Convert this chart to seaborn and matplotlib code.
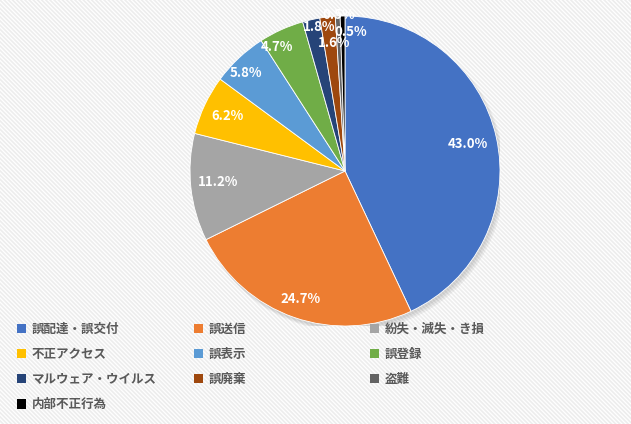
import numpy as np
import matplotlib
matplotlib.use("Agg")
import matplotlib.pyplot as plt
import seaborn as sns
from matplotlib.patches import Patch, Circle, Rectangle

categories = ["誤配達・誤交付", "誤送信", "紛失・滅失・き損", "不正アクセス", "誤表示",
              "誤登録", "マルウェア・ウイルス", "誤廃棄", "盗難", "内部不正行為"]
values = [43.0, 24.7, 11.2, 6.2, 5.8, 4.7, 1.8, 1.6, 0.5, 0.5]
colors = ["#4472C4", "#ED7D31", "#A5A5A5", "#FFC000", "#5B9BD5",
          "#70AD47", "#264478", "#9E480E", "#636363", "#000000"]
# label placement style (radius fraction, angular nudge in degrees)
label_r = [0.81, 0.875, 0.82, 0.84, 0.90, 0.91, 0.945, 0.83, 1.01, 0.90]
label_dt = [0, 0, -1.1, 0, 2.0, 4.4, -2.3, -1.4, -0.3, -3.4]

sns.set_theme(style="white")
plt.rcParams["font.family"] = ["Noto Sans CJK JP", "DejaVu Sans"]
plt.rcParams["hatch.linewidth"] = 1.2

W, H = 631, 424
fig = plt.figure(figsize=(W / 100, H / 100), dpi=100)
fig.patch.set_facecolor("white")

# faint diagonal-stripe background
fig.patches.append(Rectangle((0, 0), 1, 1, transform=fig.transFigure, facecolor="white",
                             edgecolor="#EDEDED", hatch="\\\\\\\\\\\\\\\\", lw=0, zorder=-10))

cx, cy, R = 345, 171, 155
ax = fig.add_axes([(cx - R) / W, (H - cy - R) / H, 2 * R / W, 2 * R / H])
ax.patch.set_alpha(0)

wedges, _ = ax.pie(values, colors=colors, startangle=90, counterclock=False,
                   radius=1.0, wedgeprops=dict(linewidth=0.6, edgecolor="white"))
for w in wedges:
    w.set_zorder(1)

# soft shadow
for i, a in enumerate([0.05, 0.05, 0.05]):
    ax.add_patch(Circle((0.012 + 0.006 * i, -0.018 - 0.006 * i), 1.0 + 0.004 * i,
                        color="black", alpha=a, zorder=0, lw=0))

ax.set_xlim(-1, 1)
ax.set_ylim(-1, 1)
ax.set_aspect("auto")
ax.axis("off")

for w, v, r, dt in zip(wedges, values, label_r, label_dt):
    ang = np.deg2rad((w.theta1 + w.theta2) / 2 + dt)
    ax.text(r * np.cos(ang), r * np.sin(ang), f"{v:.1f}%", ha="center", va="center",
            color="white", fontsize=9.5, fontweight="bold", zorder=5)

handles = [Patch(facecolor=c, edgecolor="none") for c in colors]
col_x = [17, 194, 370]
top_y = 323
for j in range(3):
    idx = list(range(j, len(categories), 3))
    leg = fig.legend([handles[i] for i in idx], [categories[i] for i in idx],
                     loc="upper left", bbox_to_anchor=(col_x[j] / W, 1 - top_y / H),
                     frameon=False, borderpad=0, borderaxespad=0,
                     handlelength=0.75, handleheight=0.75, handletextpad=0.45,
                     labelspacing=0.97, prop=dict(size=9, weight="bold"))
    for t in leg.get_texts():
        t.set_color("#595959")

fig.savefig("out.png", dpi=100, facecolor="white")
